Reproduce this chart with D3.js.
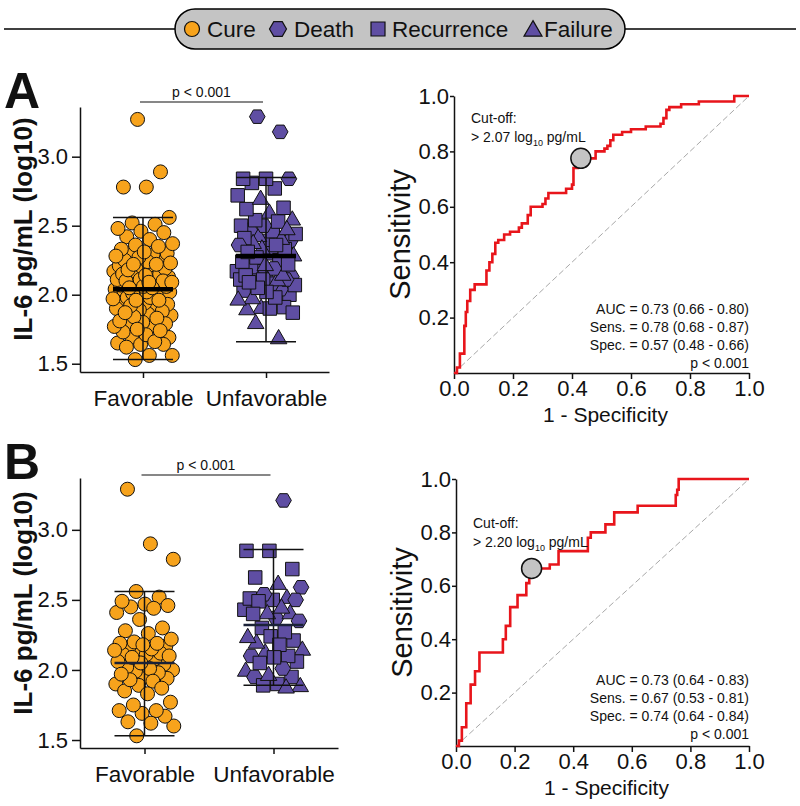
<!DOCTYPE html>
<html><head><meta charset="utf-8">
<script src="https://cdn.jsdelivr.net/npm/d3@7"></script>
<style>
body{margin:0;background:#fff}
text{font-family:"Liberation Sans",Arial,sans-serif}
</style></head>
<body><svg id="c" width="800" height="806"></svg>
<script>
// ---------- DATA ----------
const legendLabels = ["Cure", "Death", "Recurrence", "Failure"];
const groups = ["Favorable", "Unfavorable"];
const scatterTicks = [1.5, 2.0, 2.5, 3.0];
const rocTicksX = [0, 0.2, 0.4, 0.6, 0.8, 1.0];
const rocTicksY = [0.2, 0.4, 0.6, 0.8, 1.0];
const pText = "p < 0.001";

// Panel A scatter (log10 IL-6)
const A_cure = [3.27, 2.89, 2.78, 2.78, 2.56, 2.52, 2.51, 2.48, 2.46, 2.45, 2.42, 2.40, 2.37, 2.36, 2.35, 2.33, 2.31, 2.30, 2.30, 2.29,
  2.28, 2.27, 2.26, 2.25, 2.24, 2.23, 2.22, 2.22, 2.21, 2.20, 2.19, 2.18, 2.17, 2.17, 2.16, 2.15, 2.15, 2.14, 2.13, 2.12,
  2.12, 2.11, 2.11, 2.10, 2.10, 2.09, 2.09, 2.08, 2.08, 2.07, 2.06, 2.06, 2.05, 2.05, 2.04, 2.04, 2.03, 2.03, 2.02, 2.02,
  2.01, 2.00, 2.00, 1.99, 1.99, 1.98, 1.98, 1.97, 1.96, 1.96, 1.95, 1.94, 1.93, 1.92, 1.91, 1.90, 1.89, 1.88, 1.87, 1.86,
  1.85, 1.84, 1.83, 1.81, 1.80, 1.79, 1.78, 1.77, 1.77, 1.75, 1.74, 1.73, 1.71, 1.69, 1.69, 1.66, 1.65, 1.64, 1.64, 1.62,
  1.56, 1.56, 1.53];
const A_death = [3.29, 3.18, 2.84, 2.50, 2.47, 2.39, 2.36, 2.30, 2.19, 2.17, 2.13, 2.12, 2.11, 2.08, 2.04];
const A_recurrence = [2.84, 2.84, 2.81, 2.77, 2.72, 2.63, 2.62, 2.54, 2.53, 2.50, 2.46, 2.44, 2.41, 2.39, 2.36, 2.33, 2.31, 2.27,
  2.25, 2.24, 2.22, 2.20, 2.17, 2.14, 2.11, 2.11, 2.09, 2.07, 2.05, 2.03, 2.02, 2.00, 1.98, 1.91, 1.90, 1.87];
const A_failure = [2.70, 2.60, 2.55, 2.48, 2.43, 2.41, 2.38, 2.34, 2.29, 2.22, 2.15, 2.13, 2.11, 1.98, 1.97, 1.91, 1.90, 1.80, 1.69];
const A_mean = [2.04, 2.28];
const A_low = [1.53, 1.66];
const A_high = [2.56, 2.85];

// Panel B scatter
const B_cure = [3.29, 2.90, 2.79, 2.56, 2.52, 2.49, 2.47, 2.46, 2.45, 2.44, 2.41, 2.36, 2.30, 2.28, 2.26, 2.22, 2.20, 2.19, 2.19, 2.18,
  2.17, 2.16, 2.15, 2.14, 2.13, 2.12, 2.11, 2.11, 2.10, 2.09, 2.08, 2.06, 2.05, 2.04, 2.02, 2.01, 2.00, 1.99, 1.98, 1.97,
  1.95, 1.94, 1.93, 1.92, 1.90, 1.89, 1.87, 1.85, 1.83, 1.77, 1.75, 1.71, 1.71, 1.69, 1.67, 1.63, 1.62, 1.60, 1.53];
const B_death = [3.21, 2.59, 2.54, 2.50, 2.37, 2.35, 2.10, 2.01, 1.95];
const B_recurrence = [2.85, 2.85, 2.72, 2.66, 2.51, 2.50, 2.49, 2.43, 2.40, 2.30, 2.27, 2.24, 2.21, 2.18, 2.10, 2.09, 2.06, 2.05, 1.95, 1.90, 1.89];
const B_failure = [2.62, 2.52, 2.45, 2.41, 2.41, 2.24, 2.20, 2.15, 2.13, 2.00, 1.97, 1.89, 1.88];
const B_mean = [2.05, 2.32];
const B_low = [1.53, 1.89];
const B_high = [2.56, 2.86];

// ROC A
const rocA_fpr = [0, 0.01, 0.02, 0.035, 0.04, 0.045, 0.055, 0.07, 0.11, 0.12, 0.13, 0.14, 0.15, 0.17, 0.19, 0.22, 0.23, 0.25, 0.26, 0.30,
  0.31, 0.32, 0.38, 0.40, 0.405, 0.42, 0.43, 0.48, 0.51, 0.52, 0.53, 0.54, 0.57, 0.60, 0.65, 0.70, 0.71, 0.72, 0.73, 0.77, 0.83, 0.95, 1.0];
const rocA_tpr = [0, 0.02, 0.07, 0.17, 0.22, 0.26, 0.30, 0.32, 0.37, 0.40, 0.43, 0.47, 0.48, 0.50, 0.51, 0.525, 0.54, 0.57, 0.60, 0.61,
  0.63, 0.65, 0.665, 0.68, 0.74, 0.76, 0.775, 0.80, 0.81, 0.82, 0.84, 0.86, 0.87, 0.88, 0.89, 0.90, 0.92, 0.95, 0.96, 0.97, 0.98, 1.0, 1.0];
const rocA_cut = [0.43, 0.775];
const rocA_cutText = ["Cut-off:", "> 2.07 log", "10", " pg/mL"];
const rocA_stats = ["AUC = 0.73 (0.66 - 0.80)", "Sens. = 0.78 (0.68 - 0.87)", "Spec. = 0.57 (0.48 - 0.66)", "p < 0.001"];

// ROC B
const rocB_fpr = [0, 0.01, 0.02, 0.035, 0.05, 0.065, 0.08, 0.16, 0.17, 0.185, 0.21, 0.24, 0.25, 0.26, 0.32, 0.35, 0.45, 0.46, 0.51, 0.54,
  0.62, 0.75, 0.755, 0.76, 1.0];
const rocB_tpr = [0, 0.02, 0.07, 0.16, 0.23, 0.28, 0.35, 0.40, 0.45, 0.52, 0.565, 0.61, 0.63, 0.665, 0.68, 0.73, 0.78, 0.80, 0.83, 0.875,
  0.90, 0.94, 0.96, 1.0, 1.0];
const rocB_cut = [0.258, 0.665];
const rocB_cutText = ["Cut-off:", "> 2.20 log", "10", " pg/mL"];
const rocB_stats = ["AUC = 0.73 (0.64 - 0.83)", "Sens. = 0.67 (0.53 - 0.81)", "Spec. = 0.74 (0.64 - 0.84)", "p < 0.001"];

// ---------- STYLE ----------
const ORANGE = "#f7a31c", PURPLE = "#5f4ea3", RED = "#e8151b";
const FONT = '"Liberation Sans",Arial,sans-serif';
const svg = d3.select("#c");

function hexPath(r) {
  const p = d3.range(6).map(i => [r * Math.cos(i * Math.PI / 3), r * Math.sin(i * Math.PI / 3)]);
  return "M" + p.map(d => d.join(",")).join("L") + "Z";
}
function triPath(s) {
  const h = s * Math.sqrt(3) / 2;
  return `M0,${-h * 2 / 3}L${s / 2},${h / 3}L${-s / 2},${h / 3}Z`;
}
function sqPath(s) { return `M${-s / 2},${-s / 2}h${s}v${s}h${-s}Z`; }
function circPath(r) { const p = d3.path(); p.arc(0, 0, r, 0, 2 * Math.PI); return p.toString(); }
const shapeFor = {
  Cure: () => circPath(7), Death: () => hexPath(7.8), Recurrence: () => sqPath(13.5), Failure: () => triPath(16.5)
};

// ---------- LEGEND ----------
svg.append("line").attr("x1", 4).attr("x2", 796).attr("y1", 29).attr("y2", 29).attr("stroke", "#000").attr("stroke-width", 1.3);
svg.append("rect").attr("x", 175).attr("y", 9).attr("width", 450).attr("height", 40).attr("rx", 20)
  .attr("fill", "#c4c4c4").attr("stroke", "#000").attr("stroke-width", 1.5);
const legSymX = [192, 278, 378, 533];
const legTextX = [207, 294, 392, 544];
legendLabels.forEach((lab, i) => {
  svg.append("path").attr("d", lab === "Cure" ? circPath(7.5) : lab === "Death" ? hexPath(8.5) : lab === "Recurrence" ? sqPath(14) : triPath(18))
    .attr("transform", `translate(${legSymX[i]},${lab === "Failure" ? 31 : 29})`)
    .attr("fill", lab === "Cure" ? ORANGE : PURPLE).attr("stroke", "#111").attr("stroke-width", 1.2);
  svg.append("text").attr("x", legTextX[i]).attr("y", 37).attr("font-size", 22.5).attr("fill", "#111").text(lab);
});

// ---------- SCATTER ----------
function styleAxis(g, fs) {
  g.selectAll("text").attr("font-size", fs).attr("font-family", FONT).attr("fill", "#111");
  g.selectAll("path.domain").attr("stroke", "#111").attr("stroke-width", 1.5);
  g.selectAll(".tick line").attr("stroke", "#111").attr("stroke-width", 1.5);
}

function drawScatter(o) {
  const y = d3.scaleLinear().domain(o.yDom).range([o.yBot, o.yTop]);
  const x = d3.scalePoint().domain(groups).range([o.x0, o.x1]).padding(o.pad);
  const ya = svg.append("g").attr("transform", `translate(${o.x0},0)`)
    .call(d3.axisLeft(y).tickValues(scatterTicks).tickFormat(d3.format(".1f")).tickSize(8).tickSizeOuter(0).tickPadding(4));
  styleAxis(ya, 22);
  const xa = svg.append("g").attr("transform", `translate(0,${o.yBot})`)
    .call(d3.axisBottom(x).tickSize(6).tickSizeOuter(0).tickPadding(12));
  styleAxis(xa, 22.5);

  svg.append("text").attr("transform", `translate(${o.titleX},${o.titleY}) rotate(-90)`)
    .attr("text-anchor", "middle").attr("font-size", 26).attr("font-weight", "bold").attr("fill", "#111")
    .text("IL-6 pg/mL (log10)");

  // points (deterministic low-discrepancy jitter)
  const jw = 30, phi = 0.6180339887;
  const fav = o.cure.slice().sort((a, b) => a - b).map((v, i) => ({ v, t: "Cure", j: (((i * phi + 0.37) % 1) - 0.5) * 2 * jw }));
  const unf = [].concat(o.death.map(v => ({ v, t: "Death" })), o.recurrence.map(v => ({ v, t: "Recurrence" })), o.failure.map(v => ({ v, t: "Failure" })))
    .sort((a, b) => a.v - b.v);
  unf.forEach((d, i) => d.j = (((i * phi + 0.71) % 1) - 0.5) * 2 * jw);
  const favDraw = fav.slice().sort((a, b) => ((a.v * 977) % 1) - ((b.v * 977) % 1));
  svg.append("g").selectAll("path").data(favDraw).join("path")
    .attr("d", d => shapeFor[d.t]())
    .attr("transform", d => `translate(${x("Favorable") + d.j},${y(d.v)})`)
    .attr("fill", ORANGE).attr("stroke", "#111").attr("stroke-width", 1);
  const unfDraw = unf.slice().sort((a, b) => ((a.v * 977) % 1) - ((b.v * 977) % 1));
  svg.append("g").selectAll("path").data(unfDraw).join("path")
    .attr("d", d => shapeFor[d.t]())
    .attr("transform", d => `translate(${x("Unfavorable") + d.j},${y(d.v) + (d.t === "Failure" ? 1.5 : 0)})`)
    .attr("fill", PURPLE).attr("stroke", "#111").attr("stroke-width", 1);

  // whiskers
  groups.forEach((gname, i) => {
    const cx = x(gname), hw = 30;
    const g = svg.append("g").attr("stroke", "#111").attr("stroke-width", 1.5);
    g.append("line").attr("x1", cx).attr("x2", cx).attr("y1", y(o.low[i])).attr("y2", y(o.high[i]));
    g.append("line").attr("x1", cx - hw).attr("x2", cx + hw).attr("y1", y(o.low[i])).attr("y2", y(o.low[i]));
    g.append("line").attr("x1", cx - hw).attr("x2", cx + hw).attr("y1", y(o.high[i])).attr("y2", y(o.high[i]));
    g.append("line").attr("x1", cx - hw).attr("x2", cx + hw).attr("y1", y(o.mean[i])).attr("y2", y(o.mean[i]))
      .attr("stroke-width", o.meanW).attr("stroke", o.meanC);
  });

  // p-value bar
  svg.append("line").attr("x1", x("Favorable") - 3).attr("x2", x("Unfavorable") - 3).attr("y1", o.pY).attr("y2", o.pY)
    .attr("stroke", "#111").attr("stroke-width", 1.2);
  svg.append("text").attr("x", (x("Favorable") + x("Unfavorable")) / 2 - 3).attr("y", o.pY - 5).attr("text-anchor", "middle")
    .attr("font-size", 14).attr("fill", "#111").text(pText);

  // panel letter
  svg.append("text").attr("x", 4).attr("y", o.letterY).attr("font-size", 50).attr("font-weight", "bold").attr("fill", "#111").text(o.letter);
}

drawScatter({ yDom: [1.44, 3.36], yBot: 372, yTop: 107, x0: 80, x1: 329, pad: 0.512, cure: A_cure, death: A_death, recurrence: A_recurrence,
  failure: A_failure, mean: A_mean, low: A_low, high: A_high, meanW: 4.5, meanC: "#000", pY: 102, letter: "A", letterY: 108, titleX: 32, titleY: 229 });
drawScatter({ yDom: [1.443, 3.37], yBot: 748, yTop: 478, x0: 80, x1: 338, pad: 0.5, cure: B_cure, death: B_death, recurrence: B_recurrence,
  failure: B_failure, mean: B_mean, low: B_low, high: B_high, meanW: 2.5, meanC: "#1b2238", pY: 475, letter: "B", letterY: 479, titleX: 32, titleY: 603 });

// ---------- ROC ----------
function drawRoc(o) {
  const x = d3.scaleLinear().domain([0, 1]).range([o.x0, o.x1]);
  const y = d3.scaleLinear().domain([0, 1]).range([o.yBot, o.yTop]);
  const ya = svg.append("g").attr("transform", `translate(${o.x0},0)`)
    .call(d3.axisLeft(y).tickValues(rocTicksY).tickFormat(d3.format(".1f")).tickSize(4).tickSizeOuter(0).tickPadding(1));
  styleAxis(ya, 22);
  const xa = svg.append("g").attr("transform", `translate(0,${o.yBot})`)
    .call(d3.axisBottom(x).tickValues(rocTicksX).tickFormat(d3.format(".1f")).tickSize(6).tickSizeOuter(0).tickPadding(1));
  styleAxis(xa, 22);
  svg.append("text").attr("transform", `translate(${o.x0 - 44},${(o.yTop + o.yBot) / 2}) rotate(-90)`)
    .attr("text-anchor", "middle").attr("font-size", 29).attr("fill", "#111").text("Sensitivity");
  svg.append("text").attr("x", (o.x0 + o.x1) / 2 + 4).attr("y", o.yBot + 49).attr("text-anchor", "middle")
    .attr("font-size", 21).attr("fill", "#111").text("1 - Specificity");

  svg.append("line").attr("x1", x(0)).attr("y1", y(0)).attr("x2", x(1)).attr("y2", y(1))
    .attr("stroke", "#a8a8a8").attr("stroke-width", 1).attr("stroke-dasharray", "6,3");
  const pts = o.fpr.map((f, i) => [f, o.tpr[i]]);
  svg.append("path").datum(pts)
    .attr("d", d3.line().x(d => x(d[0])).y(d => y(d[1])).curve(d3.curveStepAfter))
    .attr("fill", "none").attr("stroke", RED).attr("stroke-width", 2.6);
  svg.append("circle").attr("cx", x(o.cut[0])).attr("cy", y(o.cut[1])).attr("r", 10)
    .attr("fill", "#c4c4c4").attr("stroke", "#111").attr("stroke-width", 1.5);

  svg.append("text").attr("x", o.x0 + 17).attr("y", o.cutY).attr("font-size", 14).attr("fill", "#111").text(o.cutText[0]);
  const t2 = svg.append("text").attr("x", o.x0 + 17).attr("y", o.cutY + 19).attr("font-size", 14).attr("fill", "#111");
  t2.append("tspan").text(o.cutText[1]);
  t2.append("tspan").attr("font-size", 9).attr("dy", 4).text(o.cutText[2]);
  t2.append("tspan").attr("dy", -4).text(o.cutText[3]);

  o.stats.forEach((s, i) => {
    svg.append("text").attr("x", o.x1).attr("y", o.statY + i * 18).attr("text-anchor", "end")
      .attr("font-size", 14).attr("fill", "#111").text(s);
  });
}
drawRoc({ x0: 454, x1: 749, yTop: 96, yBot: 373, fpr: rocA_fpr, tpr: rocA_tpr, cut: rocA_cut, cutText: rocA_cutText, stats: rocA_stats, cutY: 123, statY: 314 });
drawRoc({ x0: 456, x1: 749, yTop: 479, yBot: 746, fpr: rocB_fpr, tpr: rocB_tpr, cut: rocB_cut, cutText: rocB_cutText, stats: rocB_stats, cutY: 528, statY: 685 });
</script></body></html>
